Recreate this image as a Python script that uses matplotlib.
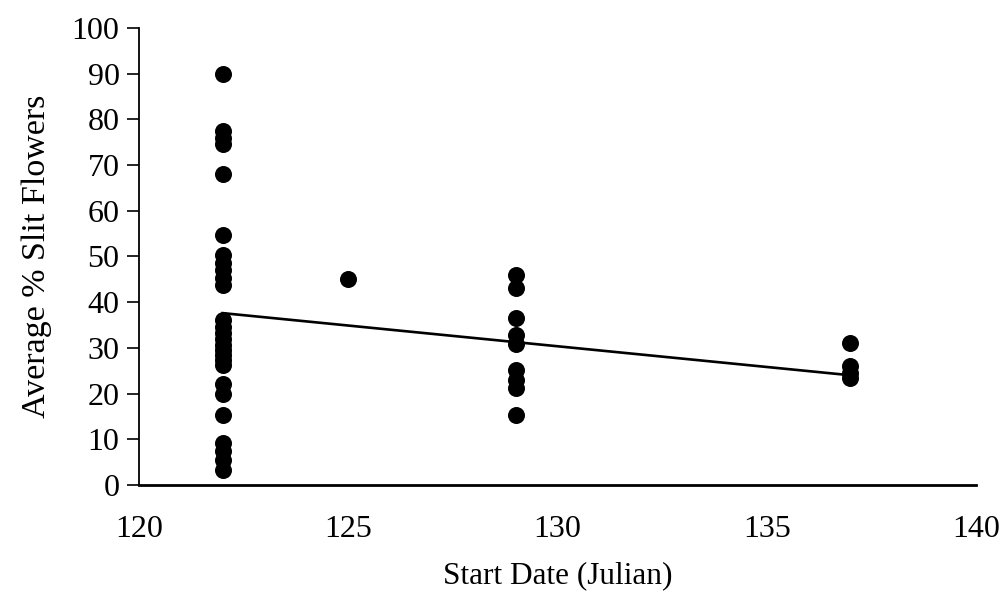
import numpy as np
import matplotlib
matplotlib.use("Agg")
import matplotlib.pyplot as plt

# Data
y_122 = [90, 77.5, 76, 74.5, 68, 54.7, 50.3, 48.5, 47, 45.3, 43.8,
         36.1, 34.5, 33.3, 32, 30.6, 29.5, 28.4, 27.3, 26.3,
         22.1, 19.9, 15.3, 9.2, 7.5, 5.5, 3.3]
x_122 = [122] * len(y_122)
x_125 = [125]
y_125 = [45]
y_129 = [46, 43.1, 36.6, 32.8, 30.8, 25.2, 23, 21.3, 15.3]
x_129 = [129] * len(y_129)
y_137 = [31, 26, 24.5, 23.5]
x_137 = [137] * len(y_137)

trend_x = [122, 137]
trend_y = [37.6, 24.0]

x_ticks = [120, 125, 130, 135, 140]
y_ticks = [0, 10, 20, 30, 40, 50, 60, 70, 80, 90, 100]

xs = x_122 + x_125 + x_129 + x_137
ys = y_122 + y_125 + y_129 + y_137

plt.rcParams['font.family'] = ['Liberation Serif', 'DejaVu Serif']

fig = plt.figure(figsize=(10.02, 5.95), dpi=100)
ax = fig.add_axes([0.1387, 0.185, 0.974 - 0.1387, 0.953 - 0.185])

ax.scatter(xs, ys, s=150, color='black', zorder=3, linewidths=0)
ax.plot(trend_x, trend_y, color='black', linewidth=1.9, zorder=2)

ax.set_xlim(120, 140)
ax.set_ylim(0, 100)
ax.set_xticks(x_ticks)
ax.set_yticks(y_ticks)
ax.tick_params(axis='x', length=0, pad=22, labelsize=23)
ax.tick_params(axis='y', length=9, width=1.2, pad=5, labelsize=23, direction='out')
ax.set_xticklabels([str(t) for t in x_ticks])

for s in ['top', 'right']:
    ax.spines[s].set_visible(False)
ax.spines['left'].set_linewidth(1.3)
ax.spines['bottom'].set_linewidth(2.0)

ax.set_xlabel('Start Date (Julian)', fontsize=22.5, labelpad=12)
ax.set_ylabel('Average % Slit Flowers', fontsize=24.5, labelpad=14)

fig.savefig('out.png', dpi=100)
